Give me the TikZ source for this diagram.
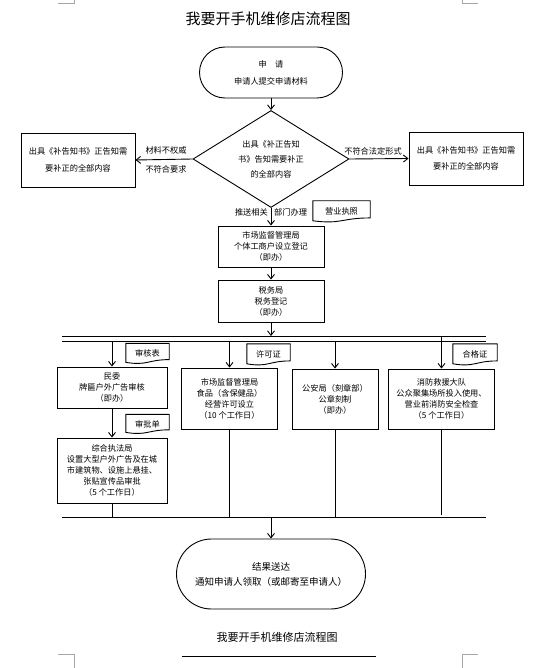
\documentclass[tikz,border=0pt]{standalone}
\usepackage{fontspec}
\newfontfamily\cjk{Noto Sans CJK SC}
\usetikzlibrary{shapes.geometric,shapes.misc,arrows.meta,calc}
\newcommand\docout[1]{\draw[ln] (#1.north west) -- (#1.north east) -- ($(#1.north east)!0.8!(#1.south east)$) .. controls ($(#1.north)!0.8!(#1.south)$) and ($(#1.north)!1.107!(#1.south)$) .. ($(#1.north west)!0.934!(#1.south west)$) -- cycle;}
\begin{document}
\begin{tikzpicture}[x=1pt,y=-1pt,
  every node/.style={font=\cjk\fontsize{8.2}{11}\selectfont, inner sep=0pt, align=center},
  ln/.style={line width=0.9pt},
  arr/.style={ln, -{Straight Barb[length=4.5pt,width=7pt]}},
  box/.style={draw, ln, rectangle},
  stad/.style={draw, ln, rounded rectangle},
  docn/.style={font=\cjk\fontsize{8.2}{10}\selectfont},
  crop/.style={line width=0.6pt, draw=black!35}
]
\useasboundingbox[fill=white] (0,0) rectangle (542,668);

% crop marks
\draw[crop] (58,3) -- (74,3) -- (74,0);
\draw[crop] (478,3) -- (462,3) -- (462,0);
\draw[crop] (58,654) -- (74,654) -- (74,668);
\draw[crop] (478,654) -- (462,654) -- (462,668);

% title
\node[font=\cjk\fontsize{15}{18}\selectfont] (title) at (268,19) {我要开手机维修店流程图};

% start
\node[stad, minimum width=143pt, minimum height=51pt, font=\cjk\fontsize{8.2}{17}\selectfont] (start) at (271,72.5) {申　请\\申请人提交申请材料};

% diamond
\node[draw, ln, diamond, shape aspect=1.6, minimum width=156pt, minimum height=97pt, font=\cjk\fontsize{8.2}{15}\selectfont] (dia) at (271,159) {出具《补正告知\\书》告知需要补正\\的全部内容};

% side boxes
\node[box, minimum width=114pt, minimum height=54pt, font=\cjk\fontsize{8.2}{16.5}\selectfont] (lbox) at (78,160) {出具《补告知书》正告知需\\要补正的全部内容};
\node[box, minimum width=114pt, minimum height=53pt, font=\cjk\fontsize{8.2}{15.5}\selectfont] (rbox) at (466,158.5) {出具《补告知书》正告知需\\要补正的全部内容};

\draw[arr] (dia.west) -- (lbox.east);
\draw[arr] (dia.east) -- (rbox.west);
\node (ll1) at (166,150) {材料不权威};
\node (ll2) at (166,169) {不符合要求};
\node (rl1) at (373,151) {不符合法定形式};

\draw[arr] (start.south) -- (dia.north);

% main boxes
\node[box, minimum width=106pt, minimum height=41pt] (box1) at (271,246.5) {市场监督管理局\\个体工商户设立登记\\（即办）};
\node[box, minimum width=106pt, minimum height=42pt] (box2) at (271,301) {税务局\\税务登记\\（即办）};
\draw[arr] (dia.south) -- (box1.north);
\draw[arr] (box1.south) -- (box2.north);
\node[anchor=east] (push1) at (268,212) {推送相关};
\node[anchor=west] (push2) at (274,212) {部门办理};

\node[docn, minimum width=57pt, minimum height=21pt] (d1) at (341.5,211.5) {营业执照};
\docout{d1}

% bus lines
\coordinate (b1L) at (62,336); \coordinate (b1R) at (486,336);
\coordinate (b2L) at (62,341); \coordinate (b2R) at (486,341);
\coordinate (b3L) at (62,517); \coordinate (b3R) at (486,517);
\draw[ln] (b1L) -- (b1R);
\draw[ln] (b2L) -- (b2R);
\draw[ln] (b3L) -- (b3R);
\coordinate (tBus) at (271,336);
\draw[arr] (box2.south) -- (tBus);

% lower boxes
\node[box, minimum width=110pt, minimum height=41pt] (boxA) at (112,387.5) {民委\\牌匾户外广告审核\\（即办）};
\node[box, minimum width=110pt, minimum height=65pt] (boxB) at (112,470.5) {综合执法局\\设置大型户外广告及在城\\市建筑物、设施上悬挂、\\张贴宣传品审批\\（5 个工作日）};
\node[box, minimum width=96pt, minimum height=61pt] (boxC) at (229.5,398.5) {市场监督管理局\\食品（含保健品）\\经营许可设立\\（10 个工作日）};
\node[box, minimum width=86pt, minimum height=60pt] (boxD) at (335,399) {公安局（刻章部）\\公章刻制\\（即办）};
\node[box, minimum width=106pt, minimum height=60pt] (boxE) at (441.5,399) {消防救援大队\\公众聚集场所投入使用、\\营业前消防安全检查\\（5 个工作日）};

\coordinate (tA) at (112,341);
\coordinate (tC) at (229.5,341);
\coordinate (tD) at (335,341);
\coordinate (tE) at (441.5,336);
\draw[arr] (tA) -- (boxA.north);
\draw[arr] (tC) -- (boxC.north);
\draw[arr] (tD) -- (boxD.north);
\draw[arr] (tE) -- (boxE.north);
\draw[arr] (boxA.south) -- (boxB.north);

\node[docn, minimum width=43pt, minimum height=20pt] (dA) at (147.5,353.5) {审核表};
\docout{dA}
\node[docn, minimum width=43pt, minimum height=19pt] (dB) at (147.5,424) {审批单};
\docout{dB}
\node[docn, minimum width=43pt, minimum height=21pt] (dC) at (268.5,354.5) {许可证};
\docout{dC}
\node[docn, minimum width=44pt, minimum height=21pt] (dE) at (475,354.5) {合格证};
\docout{dE}

\coordinate (eB) at (112,517);
\coordinate (eC) at (229.5,517);
\coordinate (eD) at (335,517);
\coordinate (eE) at (441.5,515);
\draw[ln] (boxB.south) -- (eB);
\draw[ln] (boxC.south) -- (eC);
\draw[ln] (boxD.south) -- (eD);
\draw[ln] (boxE.south) -- (eE);

% end
\node[stad, minimum width=189pt, minimum height=70pt, font=\cjk\fontsize{9.5}{15}\selectfont] (end) at (271,574) {结果送达\\通知申请人领取（或邮寄至申请人）};
\coordinate (tEnd) at (271,517);
\draw[arr] (tEnd) -- (end.north);

% caption
\node[font=\cjk\fontsize{11}{13}\selectfont] (cap) at (277,637) {我要开手机维修店流程图};
\coordinate (u1) at (182,656); \coordinate (u2) at (376,656);
\draw[line width=1pt] (u1) -- (u2);
\end{tikzpicture}
\end{document}
